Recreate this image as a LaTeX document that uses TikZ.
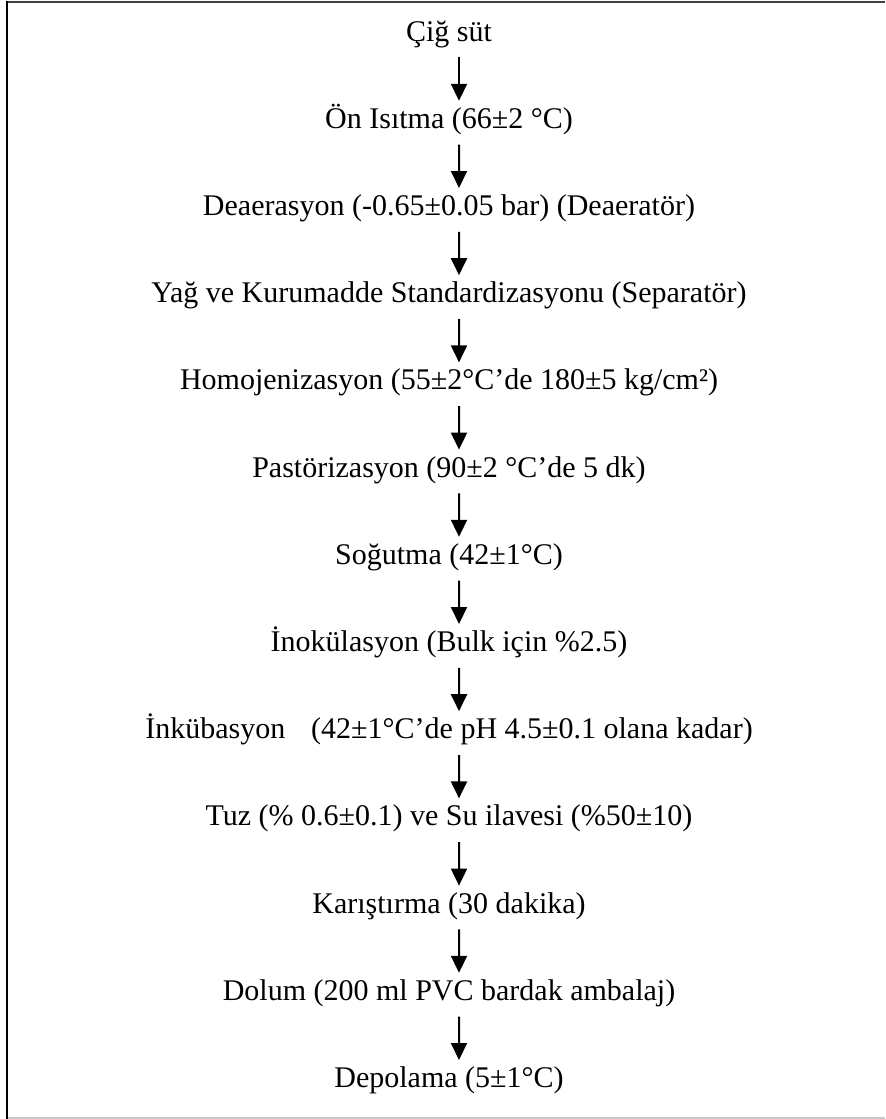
\documentclass[tikz,border=0pt]{standalone}
\usepackage{fontspec}
\setmainfont{Liberation Serif}
\usetikzlibrary{trees}
\usetikzlibrary{arrows.meta}

\begin{document}
\begin{tikzpicture}[x=0.5pt,y=-0.5pt,grow=down,level distance=43.6pt,
    every node/.style={font=\fontsize{15}{18}\selectfont,inner sep=0pt,text height=13.5pt,text depth=8pt},
    edge from parent/.style={draw,line width=1pt,-{Triangle[length=8.5pt,width=8pt]}},
    edge from parent path={([xshift=5pt]\tikzparentnode.south) -- ([xshift=5pt]\tikzchildnode.north)}]
    \useasboundingbox (0,0) rectangle (885,1119);
    \fill[white] (0,0) rectangle (885,1119);
    % cerceve
    \draw[line width=1pt,black!75] (6,2) -- (885,2);
    \draw[line width=1pt,black!22] (6,1117.5) -- (885,1117.5);
    \draw[line width=1.25pt] (7,1) -- (7,1118.5);
    \node (cig) at (449,35.5) {Çiğ süt}
      child {node (onisitma) {Ön Isıtma (66±2 °C)}
      child {node (deaer) {Deaerasyon (-0.65±0.05 bar) (Deaeratör)}
      child {node (yag) {Yağ ve Kurumadde Standardizasyonu (Separatör)}
      child {node (homojen) {Homojenizasyon (55±2°C’de 180±5 kg/cm²)}
      child {node (pastor) {Pastörizasyon (90±2 °C’de 5 dk)}
      child {node (sogutma) {Soğutma (42±1°C)}
      child {node (inokul) {İnokülasyon (Bulk için \%2.5)}
      child {node (inkub) {İnkübasyon\hspace{13pt}(42±1°C’de pH 4.5±0.1 olana kadar)}
      child {node (tuz) {Tuz (\% 0.6±0.1) ve Su ilavesi (\%50±10)}
      child {node (karis) {Karıştırma (30 dakika)}
      child {node (dolum) {Dolum (200 ml PVC bardak ambalaj)}
      child {node (depo) {Depolama (5±1°C)}}}}}}}}}}}}};
\end{tikzpicture}
\end{document}
